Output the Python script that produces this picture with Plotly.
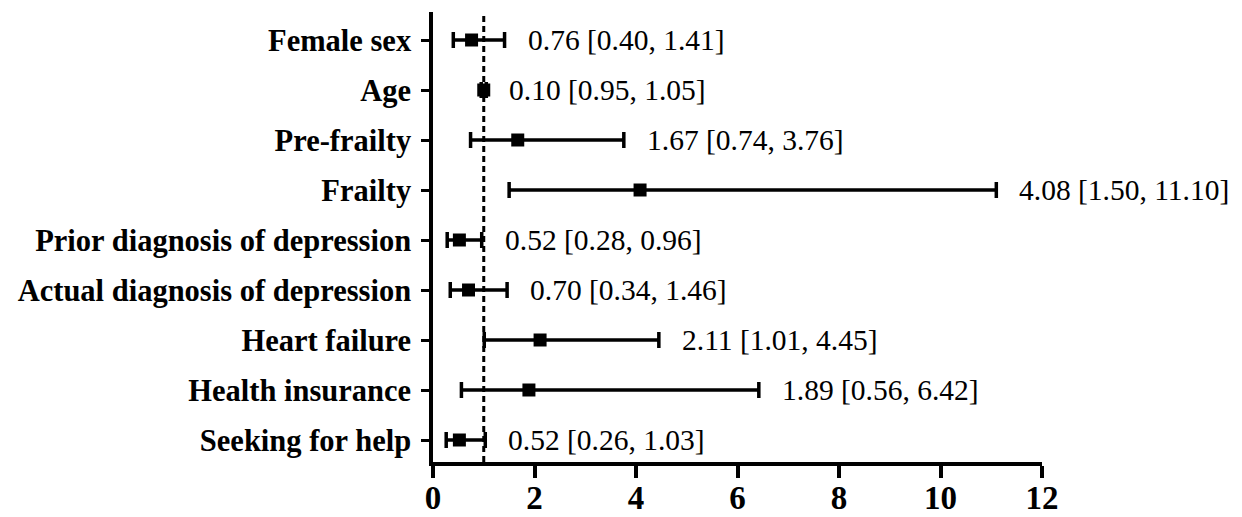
import plotly.graph_objects as go

categories = [
    "Female sex",
    "Age",
    "Pre-frailty",
    "Frailty",
    "Prior diagnosis of depression",
    "Actual diagnosis of depression",
    "Heart failure",
    "Health insurance",
    "Seeking for help",
]
odds_ratio = [0.76, 1.00, 1.67, 4.08, 0.52, 0.70, 2.11, 1.89, 0.52]
ci_lower = [0.40, 0.95, 0.74, 1.50, 0.28, 0.34, 1.01, 0.56, 0.26]
ci_upper = [1.41, 1.05, 3.76, 11.10, 0.96, 1.46, 4.45, 6.42, 1.03]
value_labels = [
    "0.76 [0.40, 1.41]",
    "0.10 [0.95, 1.05]",
    "1.67 [0.74, 3.76]",
    "4.08 [1.50, 11.10]",
    "0.52 [0.28, 0.96]",
    "0.70 [0.34, 1.46]",
    "2.11 [1.01, 4.45]",
    "1.89 [0.56, 6.42]",
    "0.52 [0.26, 1.03]",
]
x_ticks = [0, 2, 4, 6, 8, 10, 12]
reference_line = 1

SERIF = "Liberation Serif, Times New Roman, serif"

err_plus = [u - o for u, o in zip(ci_upper, odds_ratio)]
err_minus = [o - l for o, l in zip(odds_ratio, ci_lower)]

fig = go.Figure()
fig.add_trace(
    go.Scatter(
        x=odds_ratio,
        y=categories,
        mode="markers",
        marker=dict(symbol="square", size=13, color="black"),
        error_x=dict(
            type="data",
            symmetric=False,
            array=err_plus,
            arrayminus=err_minus,
            color="black",
            thickness=3.5,
            width=8,
        ),
        showlegend=False,
    )
)

for cat, hi, lab in zip(categories, ci_upper, value_labels):
    fig.add_annotation(
        x=hi,
        y=cat,
        xref="x",
        yref="y",
        text=lab,
        showarrow=False,
        xanchor="left",
        yanchor="middle",
        xshift=21,
        font=dict(family=SERIF, size=29.5, color="black"),
    )

fig.add_shape(
    type="line",
    x0=reference_line,
    x1=reference_line,
    xref="x",
    y0=0,
    y1=1,
    yref="paper",
    line=dict(color="black", width=3, dash="6px,4px"),
)

fig.update_layout(
    width=1242,
    height=517,
    margin=dict(l=433, r=200, t=12, b=55),
    paper_bgcolor="white",
    plot_bgcolor="white",
    xaxis=dict(
        range=[0, 12],
        tickvals=x_ticks,
        automargin=False,
        showline=True,
        linewidth=3.5,
        linecolor="black",
        ticks="outside",
        ticklen=12,
        tickwidth=3.5,
        tickcolor="black",
        showgrid=False,
        zeroline=False,
        ticklabelstandoff=-8,
        tickfont=dict(family=SERIF, size=33, color="black", weight="bold"),
    ),
    yaxis=dict(
        type="category",
        categoryorder="array",
        categoryarray=list(reversed(categories)),
        range=[-0.44, 8.56],
        automargin=False,
        showline=True,
        linewidth=3.5,
        linecolor="black",
        ticks="outside",
        ticklen=8,
        tickwidth=3,
        tickcolor="black",
        showgrid=False,
        zeroline=False,
        ticklabelstandoff=4,
        tickfont=dict(family=SERIF, size=30.5, color="black", weight="bold"),
    ),
)

fig.write_html("out.html")
